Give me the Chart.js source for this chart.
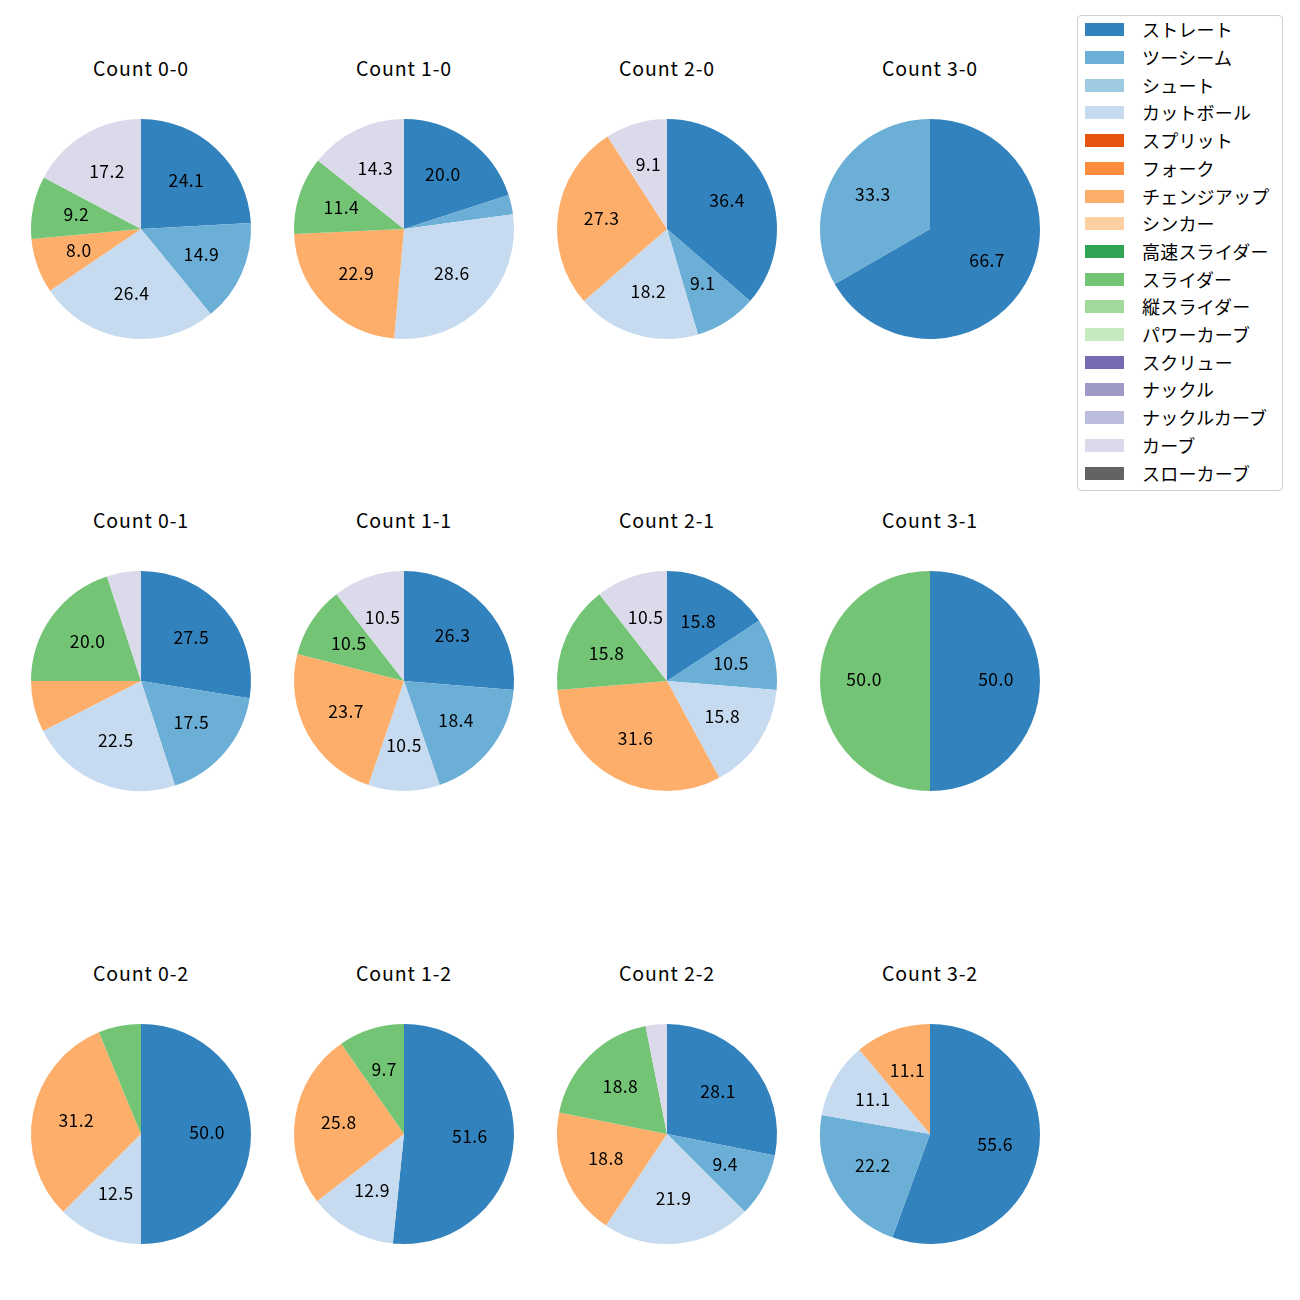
<!DOCTYPE html>
<html>
<head>
    <title>Count別 球種割合</title>
    <script src="https://cdn.jsdelivr.net/npm/chart.js"></script>
    <style>
        body { margin: 0; background: #fff; font-family: "Noto Sans CJK JP", "Noto Sans", sans-serif; }
        #wrap { position: relative; width: 1300px; height: 1300px; background: #fff; }
        .pie { position: absolute; }
        .ttl { position: absolute; width: 240px; text-align: center; font-size: 19.5px; letter-spacing: 0.9px; color: #000; line-height: 28px; }
        #legend { position: absolute; left: 1077px; top: 15px; width: 204px; height: 474px; border: 1px solid #d0d0d0; border-radius: 4px; }
        .item { position: absolute; left: 0; height: 14px; }
        .sw { position: absolute; left: 7px; top: 0; width: 39px; height: 13px; }
        .lb { position: absolute; left: 64px; top: -8px; font-size: 18px; letter-spacing: 0.2px; white-space: nowrap; line-height: 28px; }
    </style>
</head>
<body>
<div id="wrap"></div>
<script>
// 球種とカラー (tab20c)
var pitchTypes = ['ストレート', 'ツーシーム', 'シュート', 'カットボール', 'スプリット', 'フォーク', 'チェンジアップ', 'シンカー',
    '高速スライダー', 'スライダー', '縦スライダー', 'パワーカーブ', 'スクリュー', 'ナックル', 'ナックルカーブ', 'カーブ', 'スローカーブ'];
var pitchColors = ['#3182bd', '#6baed6', '#9ecae1', '#c6dbef', '#e6550d', '#fd8d3c', '#fdae6b', '#fdd0a2',
    '#31a354', '#74c476', '#a1d99b', '#c7e9c0', '#756bb1', '#9e9ac8', '#bcbddc', '#dadaeb', '#636363'];

var countLabels = ['0-0', '1-0', '2-0', '3-0', '0-1', '1-1', '2-1', '3-1', '0-2', '1-2', '2-2', '3-2'];

// 投球数 (球種の順番は pitchTypes と同じ)
//              St  2S Sh Ct Sp Fk Ch Si HS Sl VS PC Sc Kn KC Cv SC
var c00 = [21, 13, 0, 23, 0, 0, 7, 0, 0, 8, 0, 0, 0, 0, 0, 15, 0];
var c10 = [7, 1, 0, 10, 0, 0, 8, 0, 0, 4, 0, 0, 0, 0, 0, 5, 0];
var c20 = [4, 1, 0, 2, 0, 0, 3, 0, 0, 0, 0, 0, 0, 0, 0, 1, 0];
var c30 = [2, 1, 0, 0, 0, 0, 0, 0, 0, 0, 0, 0, 0, 0, 0, 0, 0];
var c01 = [11, 7, 0, 9, 0, 0, 3, 0, 0, 8, 0, 0, 0, 0, 0, 2, 0];
var c11 = [10, 7, 0, 4, 0, 0, 9, 0, 0, 4, 0, 0, 0, 0, 0, 4, 0];
var c21 = [3, 2, 0, 3, 0, 0, 6, 0, 0, 3, 0, 0, 0, 0, 0, 2, 0];
var c31 = [1, 0, 0, 0, 0, 0, 0, 0, 0, 1, 0, 0, 0, 0, 0, 0, 0];
var c02 = [8, 0, 0, 2, 0, 0, 5, 0, 0, 1, 0, 0, 0, 0, 0, 0, 0];
var c12 = [16, 0, 0, 4, 0, 0, 8, 0, 0, 3, 0, 0, 0, 0, 0, 0, 0];
var c22 = [9, 3, 0, 7, 0, 0, 6, 0, 0, 6, 0, 0, 0, 0, 0, 1, 0];
var c32 = [5, 2, 0, 1, 0, 0, 1, 0, 0, 0, 0, 0, 0, 0, 0, 0, 0];
var allCounts = [c00, c10, c20, c30, c01, c11, c21, c31, c02, c12, c22, c32];

var colX = [141, 404, 667, 930];
var rowY = [229, 681, 1134];
var R = 110;

// '%1.1f' と同じく、ちょうど半分のときは偶数側に丸める
function fmt1(v) {
    var x = v * 10, f = Math.floor(x);
    if (Math.abs(x - f - 0.5) < 1e-9) {
        x = (f % 2 === 0) ? f : f + 1;
    } else {
        x = Math.round(x);
    }
    return (x / 10).toFixed(1);
}

// matplotlib の autopct っぽくラベルを書く
var pctLabels = {
    id: 'pctLabels',
    afterDatasetsDraw: function(chart) {
        var ctx = chart.ctx;
        var data = chart.data.datasets[0].data;
        var total = data.reduce(function(a, b) { return a + b; }, 0);
        ctx.save();
        ctx.font = '17.5px "Noto Sans CJK JP", sans-serif';
        if ('letterSpacing' in ctx) ctx.letterSpacing = '0.4px';
        ctx.fillStyle = '#000';
        ctx.textAlign = 'center';
        ctx.textBaseline = 'middle';
        chart.getDatasetMeta(0).data.forEach(function(arc, i) {
            var pct = data[i] / total * 100;
            if (pct < 8) return;
            var p = arc.getProps(['x', 'y', 'startAngle', 'endAngle', 'outerRadius'], true);
            var mid = (p.startAngle + p.endAngle) / 2;
            var r = p.outerRadius * 0.6;
            ctx.fillText(fmt1(pct), p.x + Math.cos(mid) * r, p.y + Math.sin(mid) * r - 1.2);
        });
        ctx.restore();
    }
};

var wrap = document.getElementById('wrap');
allCounts.forEach(function(vals, k) {
    var cx = colX[k % 4], cy = rowY[Math.floor(k / 4)];
    var t = document.createElement('div');
    t.className = 'ttl';
    t.style.left = (cx - 120) + 'px';
    t.style.top = (cy - 160 - 15) + 'px';
    t.textContent = 'Count ' + countLabels[k];
    wrap.appendChild(t);

    var cv = document.createElement('canvas');
    cv.className = 'pie';
    cv.width = 240; cv.height = 240;
    cv.style.left = (cx - 120) + 'px';
    cv.style.top = (cy - 120) + 'px';
    wrap.appendChild(cv);

    new Chart(cv.getContext('2d'), {
        type: 'pie',
        data: {
            labels: pitchTypes,
            datasets: [{
                data: vals,
                backgroundColor: pitchColors,
                borderWidth: 0,
                radius: R
            }]
        },
        options: {
            responsive: false,
            animation: false,
            layout: { padding: 0 },
            plugins: { legend: { display: false }, tooltip: { enabled: false } }
        },
        plugins: [pctLabels]
    });
});

// 凡例
var lg = document.createElement('div');
lg.id = 'legend';
pitchTypes.forEach(function(name, i) {
    var it = document.createElement('div');
    it.className = 'item';
    it.style.top = (14.3 + i * 27.7 - 7) + 'px';
    it.innerHTML = '<div class="sw" style="background:' + pitchColors[i] + '"></div><div class="lb">' + name + '</div>';
    lg.appendChild(it);
});
wrap.appendChild(lg);
</script>
</body>
</html>
